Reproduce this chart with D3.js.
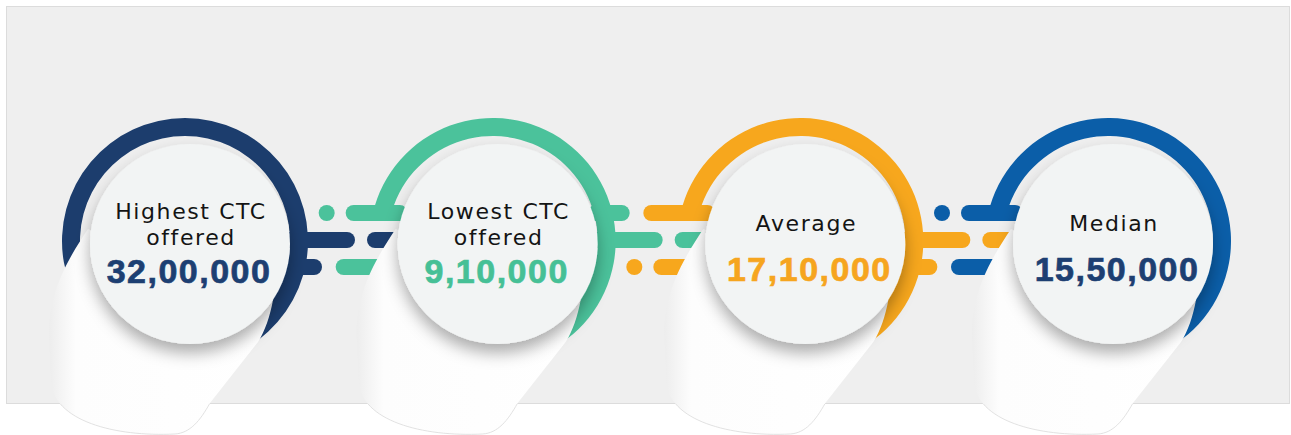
<!DOCTYPE html>
<html>
<head>
<meta charset="utf-8">
<script src="https://cdn.jsdelivr.net/npm/d3@7"></script>
<style>
  body { margin: 0; background: #fff; }
  svg { display: block; }
  .label { font-family: "DejaVu Sans", sans-serif; font-size: 22px; fill: #141414; letter-spacing: 1.6px; }
  .value { font-family: "Liberation Sans", Arial, sans-serif; font-size: 34px; font-weight: 700; letter-spacing: 1.5px; stroke-width: 0.7px; }
</style>
</head>
<body>
<svg class="chart"></svg>
<script>
var labelLines = [["Highest CTC", "offered"], ["Lowest CTC", "offered"], ["Average"], ["Median"]];
var values = [3200000, 910000, 1710000, 1550000];
var ringColors = ["#1c3d6d", "#4bc29b", "#f7a71d", "#0b5ea8"];
var valueColors = ["#1d3f72", "#46c096", "#f6a51f", "#1d3f72"];
var knobLevel = ["low", "high", "low"];   // where ring i puts its short knob

var width = 1291, height = 435;
var cy = 241, rOut = 123, rIn = 105, rDisk = 100;

// indian digit grouping: 32,00,000
var fmt = d3.formatLocale({decimal: ".", thousands: ",", grouping: [3, 2], currency: ["", ""]}).format(",");

var x = d3.scalePoint().domain(d3.range(values.length)).range([185, 1108]);

var chart = d3.select(".chart").attr("width", width).attr("height", height);
var defs = chart.append("defs");

var shadow = defs.append("filter").attr("id", "shadow")
    .attr("x", "-30%").attr("y", "-30%").attr("width", "160%").attr("height", "170%");
shadow.append("feDropShadow")
    .attr("dx", 0).attr("dy", 9).attr("stdDeviation", 8)
    .attr("flood-color", "#000").attr("flood-opacity", 0.32);

var grad = defs.append("linearGradient").attr("id", "curl").attr("x1", 0).attr("x2", 1).attr("y1", 0).attr("y2", 0);
grad.append("stop").attr("offset", 0).attr("stop-color", "#ededed");
grad.append("stop").attr("offset", 0.12).attr("stop-color", "#fdfdfd");
grad.append("stop").attr("offset", 1).attr("stop-color", "#ffffff");

defs.append("clipPath").attr("id", "below")
    .append("rect").attr("x", 0).attr("y", 404).attr("width", width).attr("height", 40);

// panel
chart.append("rect")
    .attr("x", 6.5).attr("y", 6.5).attr("width", 1283).attr("height", 397)
    .attr("fill", "#efefef").attr("stroke", "#dcdcdc");

var arc = d3.arc().innerRadius(rIn).outerRadius(rOut);

// rings
chart.append("g").selectAll("path")
    .data(values)
    .enter().append("path")
    .attr("transform", function(d, i) { return "translate(" + x(i) + "," + cy + ")"; })
    .attr("fill", function(d, i) { return ringColors[i]; })
    .attr("d", function(d, i) {
        return arc({startAngle: i == 0 ? -150 * Math.PI / 180 : -77 * Math.PI / 180, endAngle: 150 * Math.PI / 180});
    });

// connectors between rings
var levelY = {high: cy - 28, mid: cy - 1, low: cy + 26};
var bars = [], dots = [];
knobLevel.forEach(function(k, i) {
    var a = x(i), b = x(i + 1), other = k == "low" ? "high" : "low";
    bars.push({x0: a + 95, x1: a + 170, y: levelY.mid, c: ringColors[i]});
    bars.push({x0: a + 95, x1: a + 137, y: levelY[k], c: ringColors[i]});
    bars.push({x0: a + 182, x1: b - 85, y: levelY.mid, c: ringColors[i]});
    bars.push({x0: b - 157, x1: b - 85, y: levelY[k], c: ringColors[i + 1]});
    bars.push({x0: b - 147, x1: b - 85, y: levelY[other], c: ringColors[i + 1]});
    dots.push({x: b - 166, y: levelY[other], c: ringColors[i + 1]});
});

var conn = chart.append("g");
conn.selectAll("rect")
    .data(bars)
    .enter().append("rect")
    .attr("x", function(d) { return d.x0; })
    .attr("y", function(d) { return d.y - 8; })
    .attr("width", function(d) { return d.x1 - d.x0; })
    .attr("height", 16)
    .attr("rx", 8)
    .attr("fill", function(d) { return d.c; });
conn.selectAll("circle")
    .data(dots)
    .enter().append("circle")
    .attr("cx", function(d) { return d.x; })
    .attr("cy", function(d) { return d.y; })
    .attr("r", 8)
    .attr("fill", function(d) { return d.c; });

// white curl under each disk
var curl = "M-97,-12 C-115,15 -137,50 -136,95 L-134,140 C-132,180 -70,196 -10,193 " +
           "C5,192 15,180 25,162 L73,101 C80,90 85,75 88,59 Z";

chart.append("g").selectAll("path")
    .data(values)
    .enter().append("path")
    .attr("transform", function(d, i) { return "translate(" + x(i) + "," + cy + ")"; })
    .attr("d", curl)
    .attr("fill", "url(#curl)");

chart.append("g").attr("clip-path", "url(#below)").selectAll("path")
    .data(values)
    .enter().append("path")
    .attr("transform", function(d, i) { return "translate(" + x(i) + "," + cy + ")"; })
    .attr("d", curl)
    .attr("fill", "none")
    .attr("stroke", "#dadada")
    .attr("stroke-width", 0.8);

// disks
var disk = chart.append("g").selectAll("g")
    .data(values)
    .enter().append("g")
    .attr("transform", function(d, i) { return "translate(" + (x(i) + 5) + "," + (cy + 3) + ")"; });

disk.append("circle")
    .attr("r", rDisk)
    .attr("fill", "#f2f4f4")
    .attr("filter", "url(#shadow)");

disk.each(function(d, i) {
    var g = d3.select(this), lines = labelLines[i];
    var top = lines.length == 2 ? -25 : -13;
    g.selectAll("text.label")
        .data(lines)
        .enter().append("text")
        .attr("class", "label")
        .attr("text-anchor", "middle")
        .attr("x", 1)
        .attr("y", function(t, j) { return top + j * 26; })
        .text(function(t) { return t; });
    g.append("text")
        .attr("class", "value")
        .attr("text-anchor", "middle")
        .attr("x", lines.length == 2 ? -1 : 4)
        .attr("y", lines.length == 2 ? 39 : 37)
        .attr("fill", valueColors[i])
        .attr("stroke", valueColors[i])
        .text(fmt(d));
});
</script>
</body>
</html>
